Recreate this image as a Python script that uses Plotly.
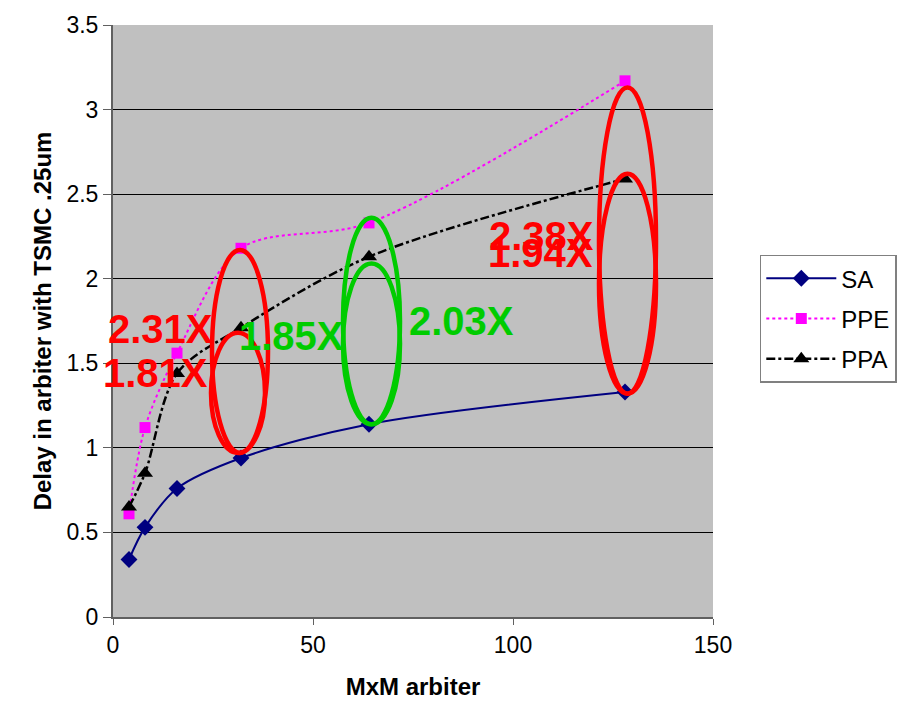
import plotly.graph_objects as go

# Data
arbiter_size = [4, 8, 16, 32, 64, 128]
sa_delay = [0.34, 0.53, 0.76, 0.94, 1.14, 1.33]
ppe_delay = [0.61, 1.12, 1.56, 2.18, 2.33, 3.17]
ppa_delay = [0.65, 0.85, 1.44, 1.71, 2.13, 2.59]

x_ticks = [0, 50, 100, 150]
y_ticks = [0, 0.5, 1, 1.5, 2, 2.5, 3, 3.5]

FONT = "Arial, Liberation Sans, sans-serif"

fig = go.Figure()
fig.add_trace(go.Scatter(
    x=arbiter_size, y=sa_delay, name="SA", mode="lines+markers", legendgroup="g1",
    line=dict(color="#000080", width=2, shape="spline", smoothing=0.9),
    marker=dict(symbol="diamond", size=13, color="#000080")))
fig.add_trace(go.Scatter(
    x=arbiter_size, y=ppe_delay, name="PPE", mode="lines+markers", legendgroup="g2",
    line=dict(color="#FF00FF", width=2, dash="dot", shape="spline", smoothing=0.9),
    marker=dict(symbol="square", size=11, color="#FF00FF")))
fig.add_trace(go.Scatter(
    x=arbiter_size, y=ppa_delay, name="PPA", mode="lines+markers", legendgroup="g3",
    line=dict(color="#000000", width=2.5, dash="dashdot", shape="spline", smoothing=0.9),
    marker=dict(symbol="triangle-up", size=14, color="#000000")))

# Ellipses (highlight regions)
ellipses = [
    (24.75, 0.97, 38.75, 2.17, "#FF0000"),
    (24.5, 0.97, 38.0, 1.68, "#FF0000"),
    (57.5, 1.14, 71.75, 2.36, "#00CC00"),
    (57.5, 1.14, 71.75, 2.09, "#00CC00"),
    (121.5, 1.32, 135.75, 3.13, "#FF0000"),
    (121.5, 1.32, 135.75, 2.62, "#FF0000"),
]
for x0, y0, x1, y1, c in ellipses:
    fig.add_shape(type="circle", xref="x", yref="y", x0=x0, y0=y0, x1=x1, y1=y1,
                  line=dict(color=c, width=4.5), layer="above")

labels = [
    ("2.31X", 11.8, 1.70, "#FF0000"),
    ("1.81X", 10.6, 1.44, "#FF0000"),
    ("1.85X", 44.5, 1.66, "#00CC00"),
    ("2.03X", 87.0, 1.75, "#00CC00"),
    ("2.38X", 107.2, 2.25, "#FF0000"),
    ("1.94X", 106.8, 2.15, "#FF0000"),
]
for t, x, y, c in labels:
    fig.add_annotation(x=x, y=y, xref="x", yref="y", text="<b>%s</b>" % t,
                       showarrow=False, font=dict(family=FONT, size=40, color=c))

fig.update_layout(
    width=913, height=714,
    margin=dict(l=113, r=200, t=22, b=97),
    paper_bgcolor="white", plot_bgcolor="#C0C0C0",
    font=dict(family=FONT, size=23, color="black"),
    legend=dict(x=1.078, y=0.612, xanchor="left", yanchor="top",
                bgcolor="white", bordercolor="#808080", borderwidth=1.5,
                font=dict(family=FONT, size=24, color="black"),
                tracegroupgap=6, itemwidth=70),
    showlegend=True,
)
fig.update_xaxes(range=[0, 150], tickvals=x_ticks, showgrid=False, zeroline=False,
                 showline=True, linecolor="#606060", linewidth=2,
                 ticks="outside", ticklen=6, tickcolor="#606060",
                 tickfont=dict(size=23),
                 title=dict(text="<b>MxM arbiter</b>", font=dict(size=24), standoff=22),
                 mirror=False)
fig.update_yaxes(range=[0, 3.5], tickvals=y_ticks, ticktext=[str(v) if v % 1 else str(int(v)) for v in y_ticks],
                 showgrid=True, gridcolor="#000000", gridwidth=1, zeroline=False,
                 showline=True, linecolor="#606060", linewidth=2,
                 ticks="outside", ticklen=8, tickcolor="#606060",
                 tickfont=dict(size=23),
                 title=dict(text="<b>Delay in arbiter with TSMC .25um</b>", font=dict(size=24), standoff=8))

fig.write_html("out.html")
